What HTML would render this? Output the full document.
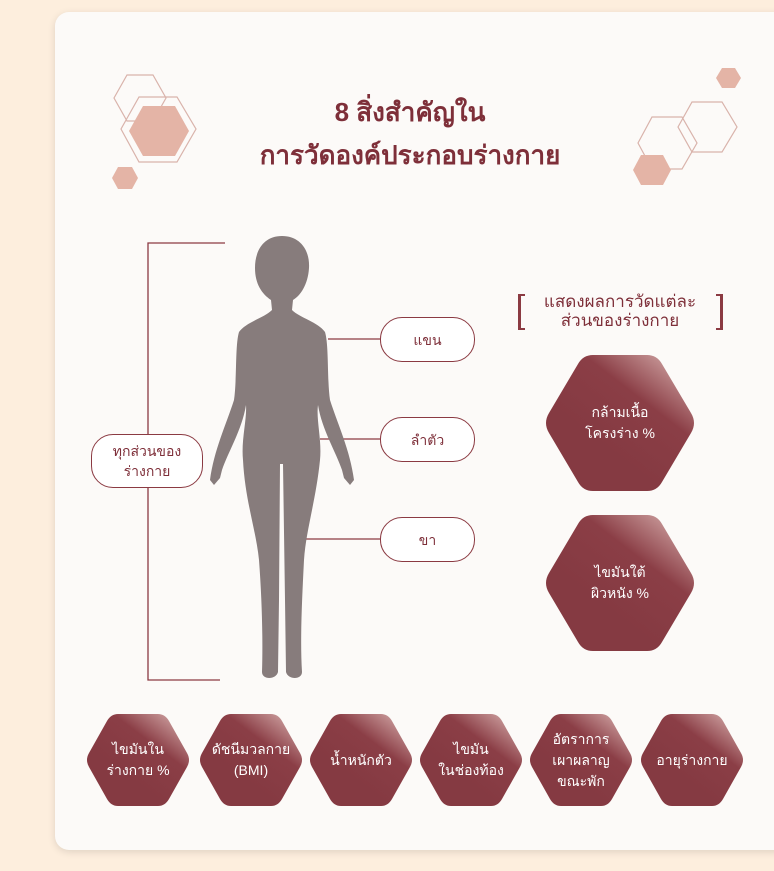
<!DOCTYPE html>
<html><head><meta charset="utf-8"><style>
body{margin:0;width:774px;height:871px;background:#fdeedd;overflow:hidden;font-family:"Liberation Sans","Noto Sans CJK SC",sans-serif;position:relative}
.card{position:absolute;left:55px;top:12px;width:740px;height:838px;background:#fcfaf8;border-radius:14px;box-shadow:0 2px 8px rgba(0,0,0,.12)}
.t{position:absolute;color:#7e2f39;font-weight:bold;text-align:center}
.pill{position:absolute;border:1.5px solid #8b3a42;border-radius:22px;background:#fff;color:#7e2f39;font-size:14px;text-align:center;display:flex;align-items:center;justify-content:center;line-height:20px}
.hx{position:absolute;display:flex;align-items:center;justify-content:center;text-align:center;color:#fff;font-size:14px;line-height:21px}
.hx svg{position:absolute;left:0;top:0}
.hx span{position:relative}
</style></head><body>
<div class="card"></div>
<svg width="774" height="871" style="position:absolute;left:0;top:0">
<defs><linearGradient id="g" x1="0.8" y1="0" x2="0.3" y2="0.6"><stop offset="0" stop-color="#c99a9a"/><stop offset="0.45" stop-color="#8b3e46"/><stop offset="1" stop-color="#853a42"/></linearGradient></defs>
<g fill="none" stroke="#d9b3ab" stroke-width="1.2">
<polygon points="114,98 127,75 153,75 166,98 153,121 127,121"/>
<polygon points="121,129 139,97 177,97 196,129 177,162 139,162"/>
<polygon points="638,143 652,117 682,117 697,143 682,169 652,169"/>
<polygon points="678,127 692,102 722,102 737,127 722,152 692,152"/>
</g>
<g fill="#e4b4a6">
<polygon points="129,131 143,106 175,106 189,131 175,156 143,156"/>
<polygon points="112,178 118,167 132,167 138,178 132,189 118,189"/>
<polygon points="633,170 641,155 663,155 671,170 663,185 641,185"/>
<polygon points="716,78 722,68 735,68 741,78 735,88 722,88"/>
</g>
<g stroke="#8b3a42" stroke-width="1.3" fill="none">
<path d="M225,243 H148 V680 H220"/>
<line x1="328" y1="339" x2="380" y2="339"/>
<line x1="320" y1="439" x2="380" y2="439"/>
<line x1="306" y1="539" x2="380" y2="539"/>
</g>
<path fill="#877c7c" d="M282,236 C300,236 310,250 309,268 C308,285 300,296 293,300 L292,310 C300,318 318,322 325,332 C329,345 327,380 330,400 C338,425 350,450 354,480 L350,485 L344,478 L342,470 C336,452 322,430 318,405 C316,420 322,440 320,460 C316,500 306,530 304,560 C302,600 300,640 302,672 C302,680 288,680 286,672 L285,600 L283,464 L280,464 L279,600 L278,672 C276,680 262,680 262,672 C263,640 262,600 259,560 C256,530 245,500 243,460 C241,440 247,420 246,405 C242,430 228,452 222,470 L220,478 L214,485 L210,480 C214,450 226,425 234,400 C237,380 235,345 239,332 C246,322 264,318 272,310 L271,300 C262,294 255,284 255,268 C255,250 264,236 282,236 Z"/>
<g fill="#8b3a42"><path d="M518,294 h7 v2 h-4 v32 h4 v2 h-7 z"/><path d="M716,294 h7 v36 h-7 v-2 h4 v-32 h-4 z"/></g>
</svg>
<div class="t" style="left:200px;top:91px;width:420px;font-size:26px;line-height:43px">8 สิ่งสำคัญใน<br>การวัดองค์ประกอบร่างกาย</div>
<div class="t" style="left:520px;top:292px;width:200px;font-size:17px;line-height:19px;font-weight:normal">แสดงผลการวัดแต่ละ<br>ส่วนของร่างกาย</div>
<div class="pill" style="left:91px;top:434px;width:110px;height:52px">ทุกส่วนของ<br>ร่างกาย</div>
<div class="pill" style="left:380px;top:317px;width:93px;height:43px">แขน</div>
<div class="pill" style="left:380px;top:417px;width:93px;height:43px">ลำตัว</div>
<div class="pill" style="left:380px;top:517px;width:93px;height:43px">ขา</div>
<div class="hx" style="left:543px;top:353px;width:154px;height:140px"><svg width="154" height="140"><path d="M50,2 H104 Q114,2 119,11 L148,60 Q154,70 148,80 L119,129 Q114,138 104,138 H50 Q40,138 35,129 L6,80 Q0,70 6,60 L35,11 Q40,2 50,2Z" fill="url(#g)"/></svg><span>กล้ามเนื้อ<br>โครงร่าง %</span></div>
<div class="hx" style="left:543px;top:513px;width:154px;height:140px"><svg width="154" height="140"><path d="M50,2 H104 Q114,2 119,11 L148,60 Q154,70 148,80 L119,129 Q114,138 104,138 H50 Q40,138 35,129 L6,80 Q0,70 6,60 L35,11 Q40,2 50,2Z" fill="url(#g)"/></svg><span>ไขมันใต้<br>ผิวหนัง %</span></div>
<div class="hx" style="left:85px;top:712px;width:106px;height:96px"><svg width="106" height="96"><path d="M33,2 H73 Q80,2 84,9 L102,41 Q106,48 102,55 L84,87 Q80,94 73,94 H33 Q26,94 22,87 L4,55 Q0,48 4,41 L22,9 Q26,2 33,2Z" fill="url(#g)"/></svg><span>ไขมันใน<br>ร่างกาย %</span></div>
<div class="hx" style="left:198px;top:712px;width:106px;height:96px"><svg width="106" height="96"><path d="M33,2 H73 Q80,2 84,9 L102,41 Q106,48 102,55 L84,87 Q80,94 73,94 H33 Q26,94 22,87 L4,55 Q0,48 4,41 L22,9 Q26,2 33,2Z" fill="url(#g)"/></svg><span>ดัชนีมวลกาย<br>(BMI)</span></div>
<div class="hx" style="left:308px;top:712px;width:106px;height:96px"><svg width="106" height="96"><path d="M33,2 H73 Q80,2 84,9 L102,41 Q106,48 102,55 L84,87 Q80,94 73,94 H33 Q26,94 22,87 L4,55 Q0,48 4,41 L22,9 Q26,2 33,2Z" fill="url(#g)"/></svg><span>น้ำหนักตัว</span></div>
<div class="hx" style="left:418px;top:712px;width:106px;height:96px"><svg width="106" height="96"><path d="M33,2 H73 Q80,2 84,9 L102,41 Q106,48 102,55 L84,87 Q80,94 73,94 H33 Q26,94 22,87 L4,55 Q0,48 4,41 L22,9 Q26,2 33,2Z" fill="url(#g)"/></svg><span>ไขมัน<br>ในช่องท้อง</span></div>
<div class="hx" style="left:528px;top:712px;width:106px;height:96px"><svg width="106" height="96"><path d="M33,2 H73 Q80,2 84,9 L102,41 Q106,48 102,55 L84,87 Q80,94 73,94 H33 Q26,94 22,87 L4,55 Q0,48 4,41 L22,9 Q26,2 33,2Z" fill="url(#g)"/></svg><span>อัตราการ<br>เผาผลาญ<br>ขณะพัก</span></div>
<div class="hx" style="left:639px;top:712px;width:106px;height:96px"><svg width="106" height="96"><path d="M33,2 H73 Q80,2 84,9 L102,41 Q106,48 102,55 L84,87 Q80,94 73,94 H33 Q26,94 22,87 L4,55 Q0,48 4,41 L22,9 Q26,2 33,2Z" fill="url(#g)"/></svg><span>อายุร่างกาย</span></div>
</body></html>
